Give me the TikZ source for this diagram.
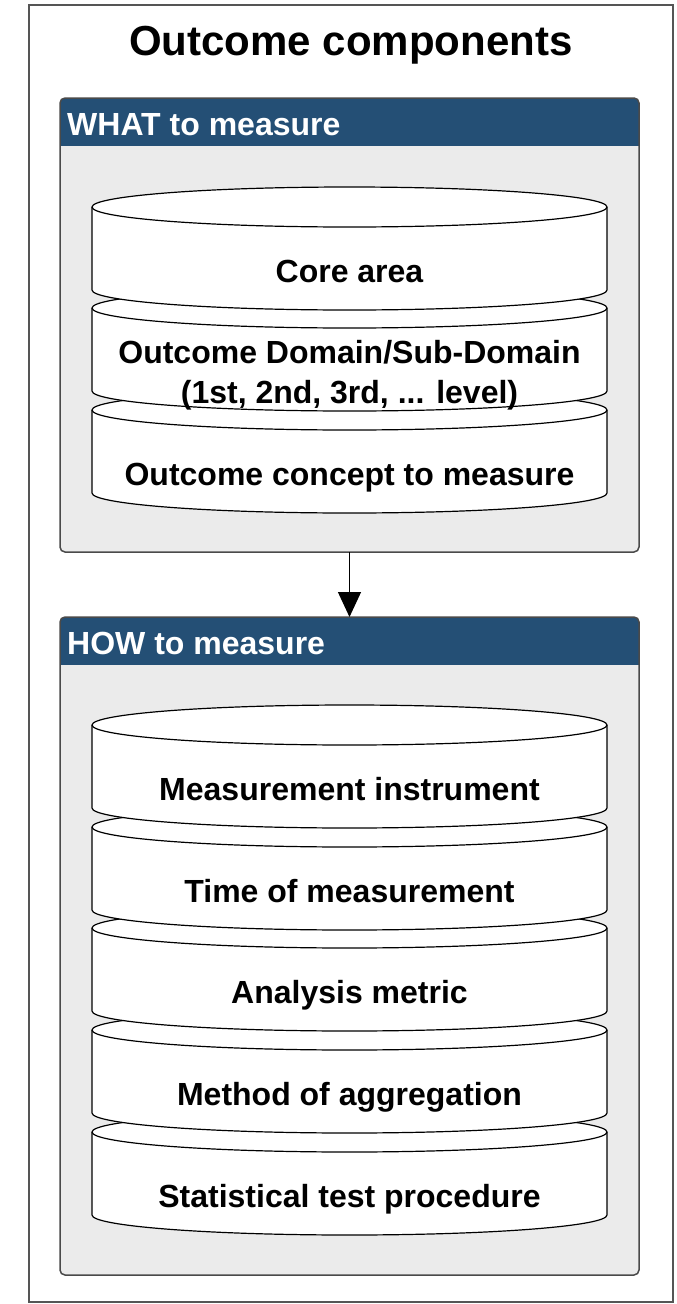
\documentclass[tikz,border=0pt]{standalone}
\usepackage{fontspec}
\setmainfont{Liberation Sans}
\usetikzlibrary{arrows.meta}

\definecolor{hdrblue}{HTML}{244F75}
\definecolor{panelgray}{HTML}{EBEBEB}
\definecolor{panelline}{HTML}{4A4A4A}
\definecolor{frameline}{HTML}{555555}

\tikzset{
  drum/.style={fill=white, draw=black, line width=1.2pt},
  panelbody/.style={fill=panelgray, draw=none, inner sep=0pt, outer sep=0pt,
                    rounded corners=5pt, minimum width=579pt},
  panelborder/.style={draw=panelline, line width=1.5pt, rounded corners=5pt},
  hdrtext/.style={text=white, font=\bfseries\fontsize{32}{38}\selectfont, anchor=base west, inner sep=0pt},
  drumtext/.style={font=\bfseries\fontsize{32}{40}\selectfont, anchor=base, inner sep=0pt, align=center},
  link/.style={line width=1.2pt, -{Triangle[width=23pt,length=25pt]}}
}

% one stacked drum: top ellipse centred at y=#1, side 83 high
\newcommand{\drum}[1]{%
  \filldraw[drum] (92,#1) -- (92,{#1+83})
    arc[start angle=180, end angle=0, x radius=257.5, y radius=20]
    -- (607,#1)
    arc[start angle=0, end angle=-180, x radius=257.5, y radius=20]
    -- cycle;
  \draw[drum, fill=none] (92,#1)
    arc[start angle=180, end angle=0, x radius=257.5, y radius=20];
}

\begin{document}
\begin{tikzpicture}[x=1pt, y=-1pt]
  \useasboundingbox (0,0) rectangle (677,1304);
  \fill[white] (0,0) rectangle (677,1304);

  % outer frame and title
  \draw[frameline, line width=1.5pt] (29,5) rectangle (673,1302);
  \node[font=\bfseries\fontsize{42}{48}\selectfont, anchor=base, inner sep=0pt]
    (title) at (351,55) {Outcome components};

  % ---------- WHAT panel ----------
  \node[panelbody, minimum height=454pt, anchor=north west] (what) at (60,98) {};
  \begin{scope}
    \clip[rounded corners=5pt] (what.north west) rectangle (what.south east);
    \fill[hdrblue] (60,98) rectangle (639,146);
  \end{scope}
  \draw[panelborder] (what.north west) rectangle (what.south east);
  \node[hdrtext] (whathdr) at (67,135) {WHAT to measure};

  \drum{410}
  \drum{308}
  \drum{207}
  \node[drumtext] (core) at (349.5,282) {Core area};
  \node[drumtext, anchor=north] (domain) at (349.5,340)
    {Outcome Domain/Sub-Domain\\(1st, 2nd, 3rd, ... level)};
  \node[drumtext] (concept) at (349.5,485) {Outcome concept to measure};

  % ---------- HOW panel ----------
  \node[panelbody, minimum height=658pt, anchor=north west] (how) at (60,617) {};
  \begin{scope}
    \clip[rounded corners=5pt] (how.north west) rectangle (how.south east);
    \fill[hdrblue] (60,617) rectangle (639,665);
  \end{scope}
  \draw[panelborder] (how.north west) rectangle (how.south east);
  \node[hdrtext] (howhdr) at (67,654) {HOW to measure};

  \drum{1132}
  \drum{1030}
  \drum{928}
  \drum{827}
  \drum{725}
  \node[drumtext] (instr)  at (349.5,800)  {Measurement instrument};
  \node[drumtext] (timing) at (349.5,902)  {Time of measurement};
  \node[drumtext] (metric) at (349.5,1003) {Analysis metric};
  \node[drumtext] (aggr)   at (349.5,1105) {Method of aggregation};
  \node[drumtext] (stat)   at (349.5,1207) {Statistical test procedure};

  % link between the two panels
  \draw[link] (what.south) -- (how.north);
\end{tikzpicture}
\end{document}
